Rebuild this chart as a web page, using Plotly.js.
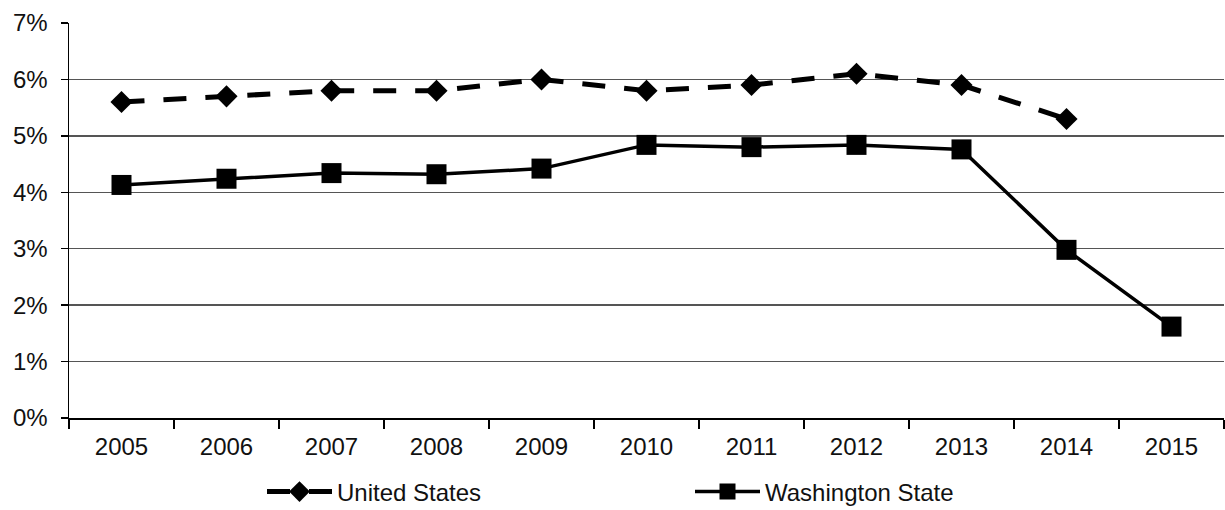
<!DOCTYPE html>
<html>
<head>
<meta charset="utf-8">
<script src="https://cdn.plot.ly/plotly-3.0.1.min.js"></script>
<style>html,body{margin:0;padding:0;background:#fff}#chart{width:1225px;height:510px}</style>
</head>
<body>
<div id="chart"></div>
<script>
const years = ['2005','2006','2007','2008','2009','2010','2011','2012','2013','2014','2015'];
const usYears = ['2005','2006','2007','2008','2009','2010','2011','2012','2013','2014'];
const usValues = [5.6, 5.7, 5.8, 5.8, 6.0, 5.8, 5.9, 6.1, 5.9, 5.3];
const waValues = [4.13, 4.24, 4.34, 4.32, 4.42, 4.84, 4.80, 4.84, 4.76, 2.98, 1.62];
const yTickVals = [0,1,2,3,4,5,6,7];
const yTickText = ['0%','1%','2%','3%','4%','5%','6%','7%'];

const FONT = 'Liberation Sans, Arial, sans-serif';

const traces = [
  {
    x: usYears, y: usValues, name: 'United States', type: 'scatter', mode: 'lines+markers',
    line: {color: '#000', width: 5, dash: '23px,19px'},
    marker: {symbol: 'diamond', size: 17, color: '#000'}
  },
  {
    x: years, y: waValues, name: 'Washington State', type: 'scatter', mode: 'lines+markers',
    line: {color: '#000', width: 3.5},
    marker: {symbol: 'square', size: 20, color: '#000'}
  }
];

const layout = {
  width: 1225, height: 510,
  margin: {l: 69, r: 1, t: 23, b: 92},
  paper_bgcolor: '#fff', plot_bgcolor: '#fff',
  font: {family: FONT, size: 24, color: '#111'},
  showlegend: true,
  legend: {
    orientation: 'h', xref: 'container', yref: 'container',
    x: 262/1225, xanchor: 'left', y: 1 - 492/510, yanchor: 'middle',
    itemwidth: 65, entrywidth: 348, entrywidthmode: 'pixels',
    font: {family: FONT, size: 24, color: '#111'},
    bgcolor: 'rgba(0,0,0,0)', traceorder: 'normal'
  },
  xaxis: {
    type: 'category', categoryorder: 'array', categoryarray: years,
    range: [-0.5, 10.5], showgrid: false, zeroline: false,
    showline: true, linecolor: '#000', linewidth: 1.5,
    ticks: 'outside', tickson: 'boundaries', ticklen: 9, tickcolor: '#000', tickwidth: 1.5,
    ticklabelstandoff: 7,
    tickfont: {family: FONT, size: 24, color: '#111'},
    fixedrange: true
  },
  yaxis: {
    range: [0, 7], tickvals: yTickVals, ticktext: yTickText,
    showgrid: true, gridcolor: '#555', gridwidth: 1.5, zeroline: false,
    showline: true, linecolor: '#000', linewidth: 1.5,
    ticks: 'outside', ticklen: 7, tickcolor: '#000', tickwidth: 1.5,
    ticklabelstandoff: 8,
    tickfont: {family: FONT, size: 24, color: '#111'},
    fixedrange: true
  }
};

Plotly.newPlot('chart', traces, layout, {displayModeBar: false, staticPlot: true});
</script>
</body>
</html>
